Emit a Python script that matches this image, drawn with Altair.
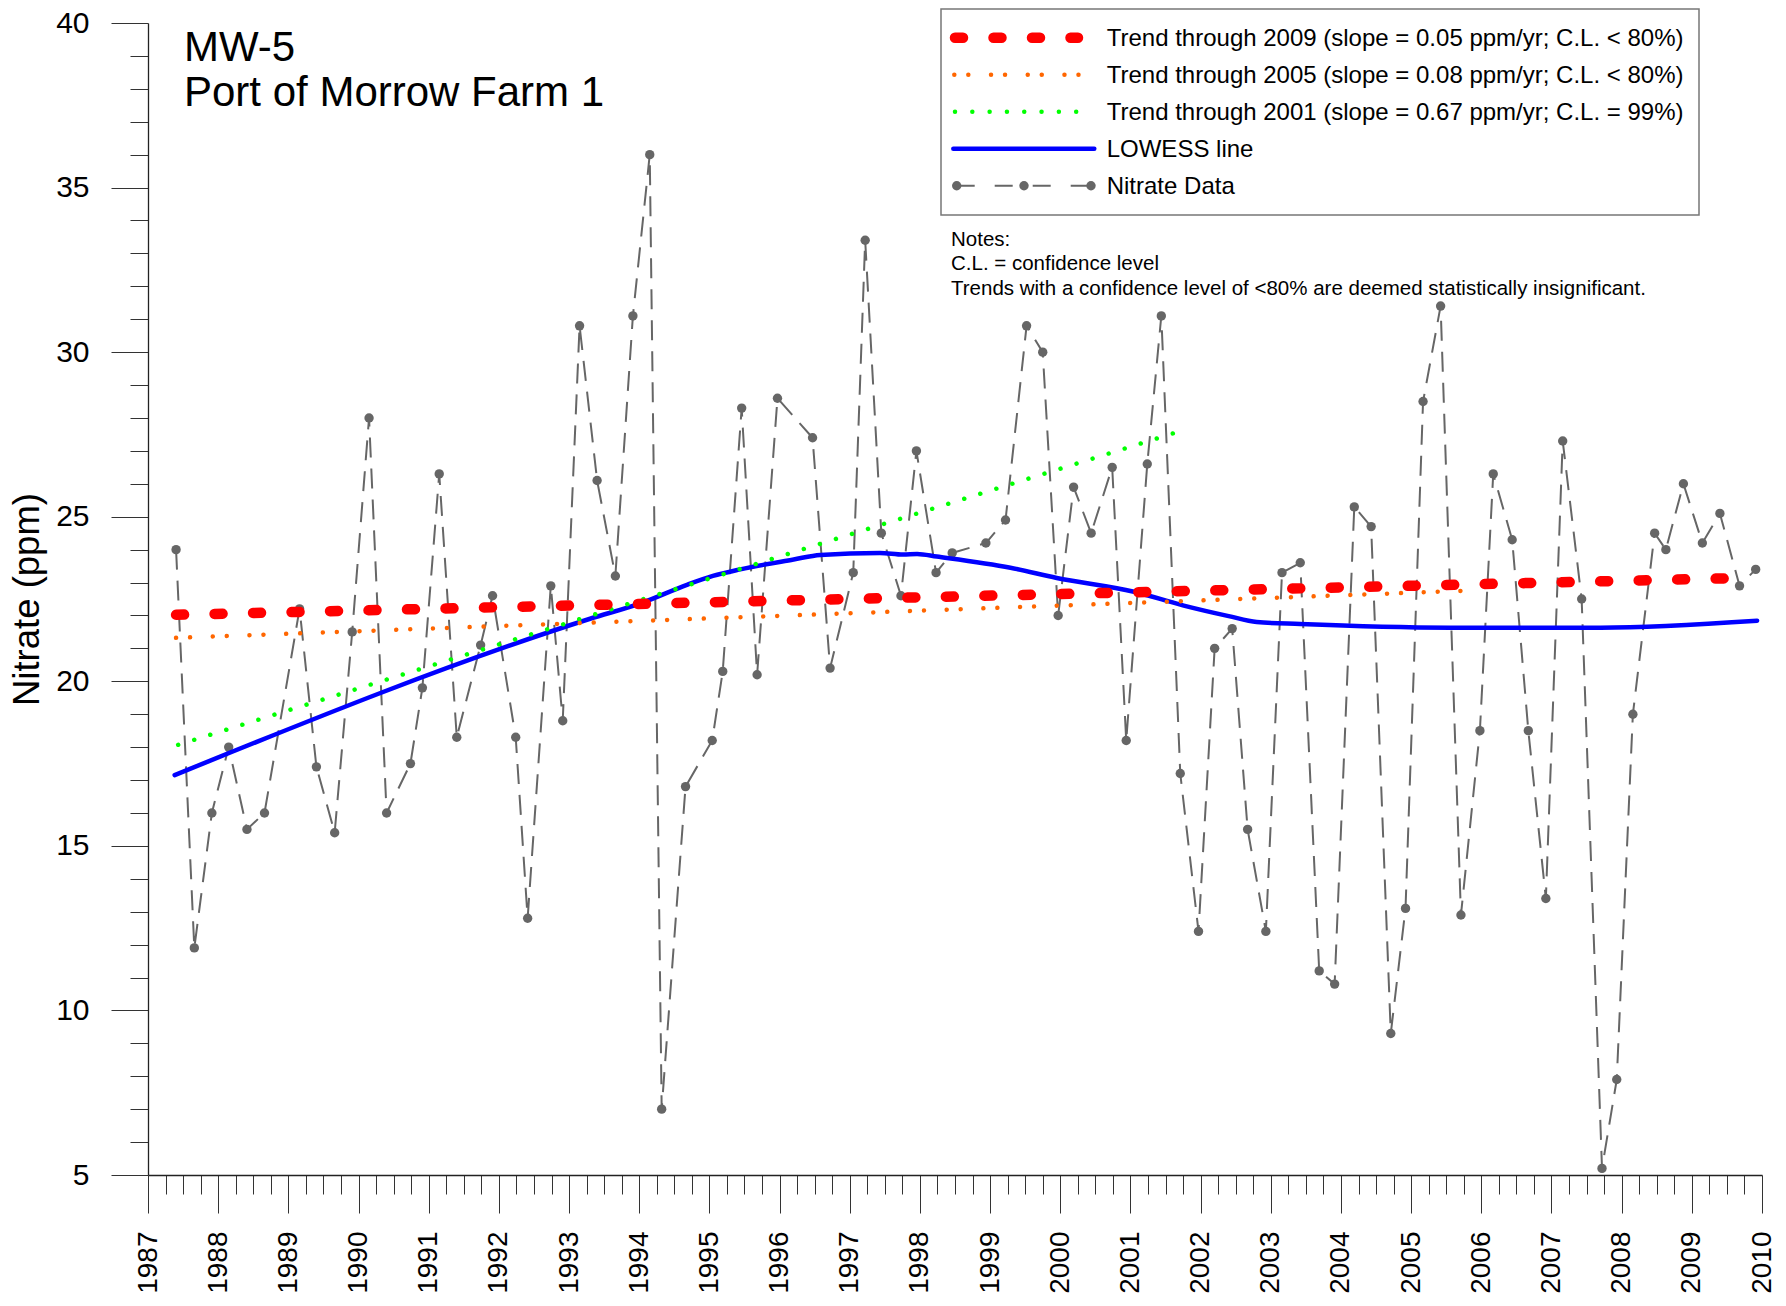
import altair as alt
import pandas as pd

# ---------------- data ----------------
sample_years = [
    1987.40, 1987.66, 1987.91, 1988.15, 1988.41, 1988.66, 1989.16, 1989.40,
    1989.66, 1989.91, 1990.15, 1990.40, 1990.74, 1990.91, 1991.15, 1991.40,
    1991.74, 1991.91, 1992.24, 1992.41, 1992.74, 1992.91, 1993.15, 1993.40,
    1993.66, 1993.91, 1994.15, 1994.32, 1994.66, 1995.04, 1995.19, 1995.46,
    1995.68, 1995.97, 1996.47, 1996.72, 1997.05, 1997.22, 1997.45, 1997.73,
    1997.95, 1998.23, 1998.46, 1998.94, 1999.22, 1999.52, 1999.75, 1999.97,
    2000.19, 2000.44, 2000.74, 2000.94, 2001.24, 2001.44, 2001.71, 2001.97,
    2002.20, 2002.45, 2002.67, 2002.93, 2003.16, 2003.42, 2003.69, 2003.91,
    2004.19, 2004.43, 2004.71, 2004.92, 2005.17, 2005.42, 2005.71, 2005.98,
    2006.17, 2006.44, 2006.67, 2006.92, 2007.16, 2007.43, 2007.72, 2007.93,
    2008.16, 2008.47, 2008.63, 2008.88, 2009.15, 2009.40, 2009.68, 2009.91,
]
nitrate_ppm = [
    24.0, 11.9, 16.0, 18.0, 15.5, 16.0, 22.2, 17.4,
    15.4, 21.5, 28.0, 16.0, 17.5, 19.8, 26.3, 18.3,
    21.1, 22.6, 18.3, 12.8, 22.9, 18.8, 30.8, 26.1,
    23.2, 31.1, 36.0, 7.0, 16.8, 18.2, 20.3, 28.3,
    20.2, 28.6, 27.4, 20.4, 23.3, 33.4, 24.5, 22.6,
    27.0, 23.3, 23.9, 24.2, 24.9, 30.8, 30.0, 22.0,
    25.9, 24.5, 26.5, 18.2, 26.6, 31.1, 17.2, 12.4,
    21.0, 21.6, 15.5, 12.4, 23.3, 23.6, 11.2, 10.8,
    25.3, 24.7, 9.3, 13.1, 28.5, 31.4, 12.9, 18.5,
    26.3, 24.3, 18.5, 13.4, 27.3, 22.5, 5.2, 7.9,
    19.0, 24.5, 24.0, 26.0, 24.2, 25.1, 22.9, 23.4,
]

lowess_years = [1987.38, 1993.30, 1994.06, 1994.68, 1995.05, 1995.44, 1996.20,
                1996.58, 1997.43, 1997.76, 1997.96, 1998.24, 1999.29, 1999.95,
                2001.05, 2001.76, 2002.40, 2002.80, 2003.42, 2005.56, 2007.70,
                2009.93]
lowess_ppm = [17.15, 21.90, 22.40, 22.93, 23.20, 23.40, 23.70,
              23.84, 23.90, 23.85, 23.87, 23.79, 23.45, 23.14,
              22.72, 22.30, 21.98, 21.80, 21.74, 21.63, 21.63,
              21.84]

trend2009_years = [1987.40, 2009.75]
trend2009_ppm = [22.02, 23.14]
trend2005_years = [1987.40, 2005.90]
trend2005_ppm = [21.32, 22.76]
trend2001_years = [1987.43, 2001.65]
trend2001_ppm = [18.07, 27.56]

year_ticks = [1987 + q / 4 for q in range(0, 93)]
ppm_ticks = list(range(5, 41))

legend_labels = [
    "Trend through 2009 (slope = 0.05 ppm/yr; C.L. < 80%)",
    "Trend through 2005 (slope = 0.08 ppm/yr; C.L. < 80%)",
    "Trend through 2001 (slope = 0.67 ppm/yr; C.L. = 99%)",
    "LOWESS line",
    "Nitrate Data",
]
notes_lines = [
    "Notes:",
    "C.L. = confidence level",
    "Trends with a confidence level of <80% are deemed statistically insignificant.",
]
title_lines = ["MW-5", "Port of Morrow Farm 1"]

# ---------------- styling ----------------
FONT = "Arial, Liberation Sans, sans-serif"
W, H = 1614, 1152
GRAY = "#666666"

x_enc = alt.X(
    "year:Q",
    scale=alt.Scale(domain=[1987, 2010], nice=False, zero=False),
    axis=alt.Axis(
        values=year_ticks,
        labelExpr="datum.value % 1 === 0 ? format(datum.value, 'd') : ''",
        labelAngle=270, labelFont=FONT, labelFontSize=28, labelColor="black",
        labelPadding=18, labelOverlap=False, labelFlush=False, labelBound=False,
        tickSize={"condition": {"test": "datum.value % 1 === 0", "value": 38}, "value": 19},
        tickColor="#333333", tickWidth=1,
        domainColor="#222222", domainWidth=1.3, grid=False, title=None,
    ),
)
y_enc = alt.Y(
    "ppm:Q",
    scale=alt.Scale(domain=[5, 40], nice=False, zero=False),
    axis=alt.Axis(
        values=ppm_ticks,
        labelExpr="datum.value % 5 === 0 ? datum.value : ''",
        labelFont=FONT, labelFontSize=30, labelColor="black", labelPadding=22,
        labelOverlap=False, labelFlush=False, labelBound=False,
        tickSize={"condition": {"test": "datum.value % 5 === 0", "value": 37}, "value": 18},
        tickColor="#333333", tickWidth=1,
        domainColor="#222222", domainWidth=1.3, grid=False,
        title="Nitrate (ppm)", titleFont=FONT, titleFontSize=36.5,
        titleFontWeight="normal", titleColor="black", titleAngle=270,
        titleX=-121, titleY=H / 2, titleBaseline="middle", titleAlign="center",
    ),
)


def series_df(xs, ys):
    return pd.DataFrame({"year": xs, "ppm": ys})


data_df = series_df(sample_years, nitrate_ppm)

data_line = alt.Chart(data_df).mark_line(
    color=GRAY, strokeWidth=2, strokeDash=[20, 11]
).encode(x=x_enc, y=y_enc)
data_pts = alt.Chart(data_df).mark_circle(
    color=GRAY, size=88, opacity=1
).encode(x=x_enc, y=y_enc)

lowess = alt.Chart(series_df(lowess_years, lowess_ppm)).mark_line(
    color="#0000ff", strokeWidth=4.5, strokeCap="round", strokeJoin="round",
    interpolate="monotone"
).encode(x=x_enc, y=y_enc)
t2001 = alt.Chart(series_df(trend2001_years, trend2001_ppm)).mark_line(
    color="#00ff00", strokeWidth=4.5, strokeCap="round", strokeDash=[0.01, 16.8]
).encode(x=x_enc, y=y_enc)
t2005 = alt.Chart(series_df(trend2005_years, trend2005_ppm)).mark_line(
    color="#ff6600", strokeWidth=4.5, strokeCap="round", strokeDash=[0.01, 14, 0.01, 22.7]
).encode(x=x_enc, y=y_enc)
t2009 = alt.Chart(series_df(trend2009_years, trend2009_ppm)).mark_line(
    color="#ff0000", strokeWidth=10.5, strokeCap="round", strokeDash=[8, 30.5]
).encode(x=x_enc, y=y_enc)

# ---------------- decorations: title, legend box, notes ----------------
one = pd.DataFrame({"a": [0]})


def text_layer(txt, x, y, size, color="black"):
    return alt.Chart(one).mark_text(
        text=txt, font=FONT, fontSize=size, color=color,
        align="left", baseline="alphabetic",
    ).encode(x=alt.value(x), y=alt.value(y))


def rule_layer(x1, x2, y, **kw):
    return alt.Chart(one).mark_rule(**kw).encode(
        x=alt.value(x1), x2=alt.value(x2), y=alt.value(y)
    )


layers = [data_line, data_pts, lowess, t2001, t2005, t2009]

layers.append(text_layer(title_lines[0], 36, 38, 42))
layers.append(text_layer(title_lines[1], 36, 83, 42))

box = alt.Chart(one).mark_rect(
    fill="white", stroke="#777777", strokeWidth=1.5
).encode(x=alt.value(793), x2=alt.value(1551), y=alt.value(-14), y2=alt.value(192))
layers.append(box)

rows = [14.7, 51.7, 88.7, 125.7, 162.7]
layers.append(rule_layer(807, 930, rows[0], color="#ff0000", strokeWidth=10.5,
                         strokeCap="round", strokeDash=[8, 30.5]))
layers.append(rule_layer(806.3, 931, rows[1], color="#ff6600", strokeWidth=4.5,
                         strokeCap="round", strokeDash=[0.01, 14, 0.01, 22.7]))
layers.append(rule_layer(807, 929, rows[2], color="#00ff00", strokeWidth=4.5,
                         strokeCap="round", strokeDash=[0.01, 17.3]))
layers.append(rule_layer(805.3, 946.3, rows[3], color="#0000ff", strokeWidth=4.5,
                         strokeCap="round"))
layers.append(rule_layer(808.7, 943, rows[4], color=GRAY, strokeWidth=2,
                         strokeDash=[18, 20]))
for px in (808.7, 876, 943):
    layers.append(alt.Chart(one).mark_circle(color=GRAY, size=88, opacity=1).encode(
        x=alt.value(px), y=alt.value(rows[4])))
for lbl, ry in zip(legend_labels, rows):
    layers.append(text_layer(lbl, 958.7, ry + 8.6, 24))

for line, by in zip(notes_lines, [222.7, 247.0, 271.5]):
    layers.append(text_layer(line, 803, by, 20.5))

chart = alt.layer(*layers).properties(
    width=W, height=H,
    autosize=alt.AutoSizeParams(type="none"),
    padding={"left": 140, "top": 15, "right": 15, "bottom": 122},
).configure_view(stroke=None)

chart.save("out.html", embed_options={"renderer": "svg", "actions": False})
